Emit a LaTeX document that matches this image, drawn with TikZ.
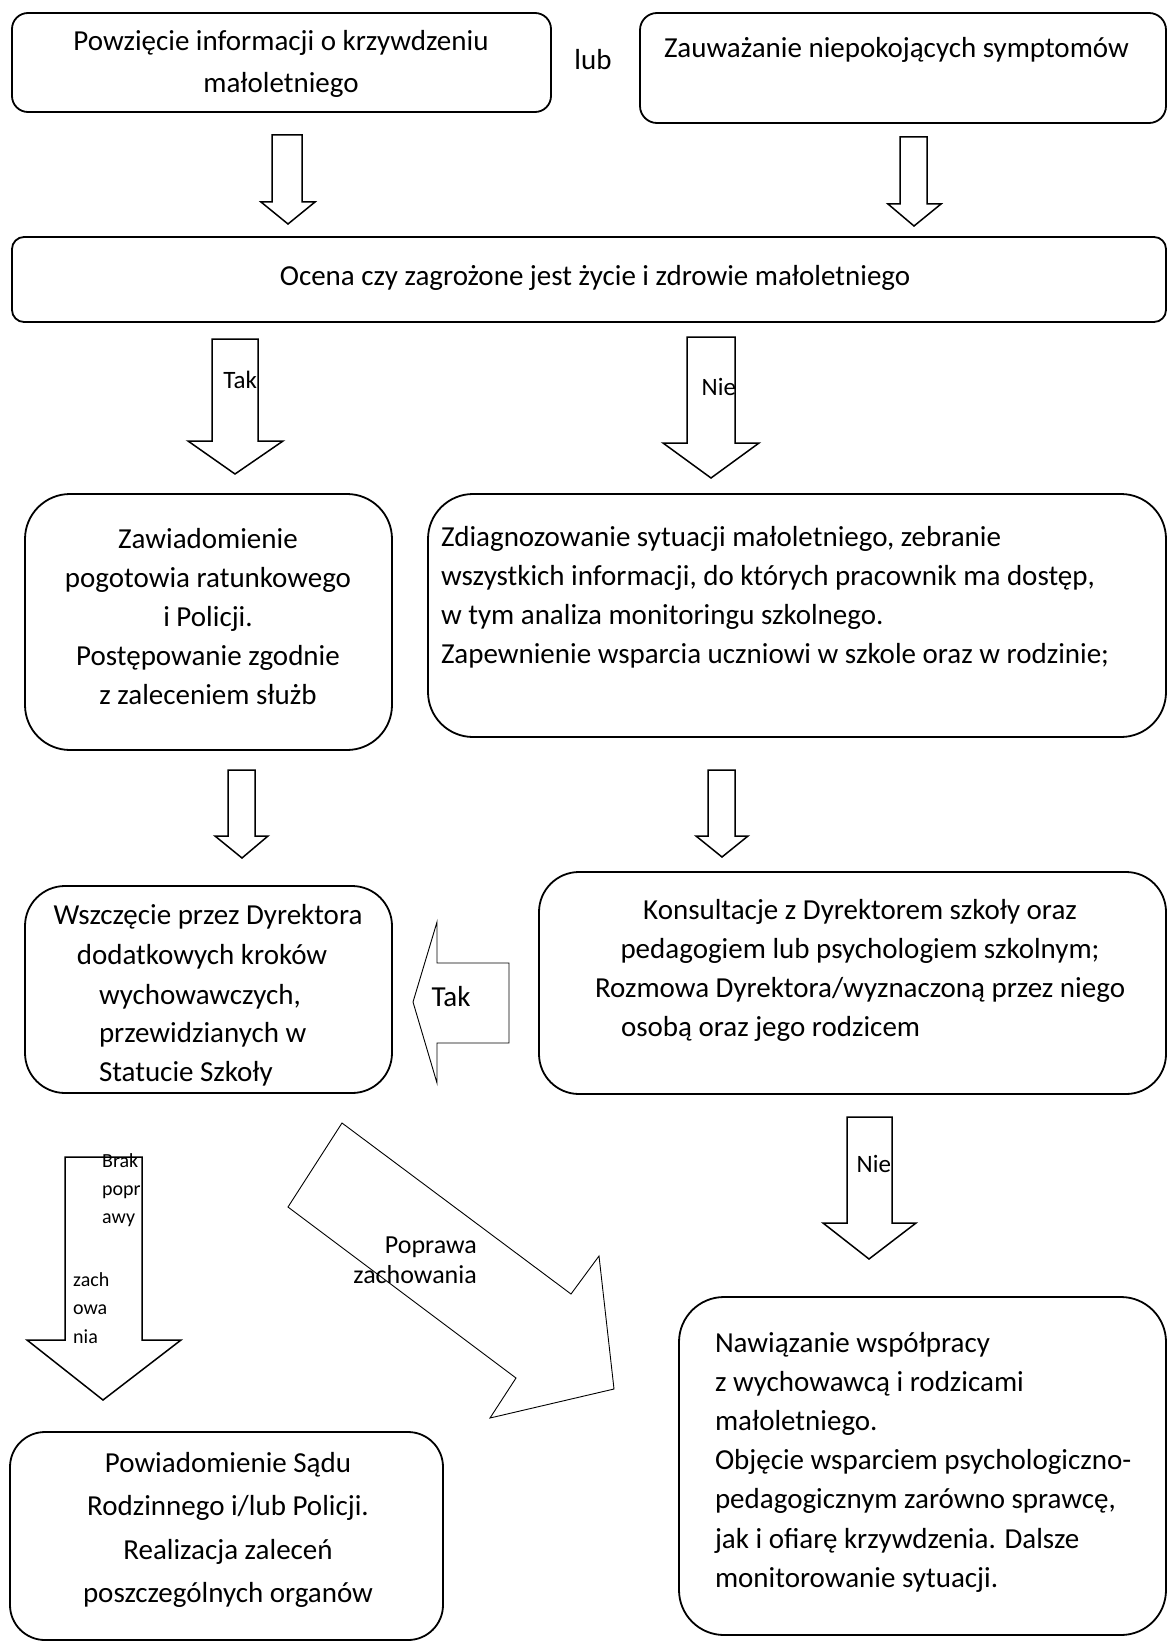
\documentclass[tikz,border=0pt]{standalone}
\usepackage{fontspec}
\setmainfont{Carlito}
\newcommand\myfs[2]{\fontsize{#1}{#2}\selectfont}
\tikzset{
  box/.style={draw, line width=1.8pt, inner sep=0pt, outer sep=0pt},
  blk/.style={draw, line width=1.5pt, line join=miter, fill=white},
  thinblk/.style={draw, line width=0.9pt, line join=miter, fill=white},
  txt/.style={inner sep=0pt, outer sep=0pt, font=\myfs{29}{35}},
  lbl/.style={inner sep=0pt, outer sep=0pt, font=\myfs{25}{30}},
}
\begin{document}
\begin{tikzpicture}[x=1pt,y=-1pt]
\useasboundingbox[fill=white] (0,0) rectangle (1168,1645);

% boxes
\node[box, rounded corners=16pt, minimum width=539pt, minimum height=99pt] (b1) at (281.5,62.5) {};
\node[box, rounded corners=17pt, minimum width=526pt, minimum height=110pt] (b2) at (903,68) {};
\node[box, rounded corners=12pt, minimum width=1154pt, minimum height=85pt] (ocena) at (589,279.5) {};
\node[box, rounded corners=45pt, minimum width=367pt, minimum height=256pt] (zaw) at (208.5,622) {};
\node[box, rounded corners=45pt, minimum width=738pt, minimum height=243pt] (zdiag) at (797,615.5) {};
\node[box, rounded corners=40pt, minimum width=367pt, minimum height=207pt] (wszcz) at (208.5,989.5) {};
\node[box, rounded corners=40pt, minimum width=627pt, minimum height=222pt] (kons) at (852.5,983) {};
\node[box, rounded corners=35pt, minimum width=433pt, minimum height=208pt] (powiad) at (226.5,1536) {};
\node[box, rounded corners=45pt, minimum width=487pt, minimum height=338pt] (nawiaz) at (922.5,1466) {};

% block arrows
\draw[blk] (272,135) -- (302,135) -- (302,202) -- (315,202) -- (288,224) -- (261,202) -- (272,202) -- cycle;
\draw[blk] (900,137) -- (927,137) -- (927,204) -- (941,204) -- (914,226) -- (888,204) -- (900,204) -- cycle;
\draw[blk] (212,339) -- (258,339) -- (258,441) -- (283,441) -- (235,474) -- (188,441) -- (212,441) -- cycle;
\draw[blk] (687,337) -- (735,337) -- (735,443) -- (759,443) -- (711,478) -- (663,443) -- (687,443) -- cycle;
\draw[blk] (228,770) -- (255,770) -- (255,836) -- (268,836) -- (242,858) -- (215,836) -- (228,836) -- cycle;
\draw[blk] (708,770) -- (735,770) -- (735,836) -- (748,836) -- (722,857) -- (696,836) -- (708,836) -- cycle;
\draw[blk] (847,1117) -- (892,1117) -- (892,1223) -- (916,1223) -- (869,1259) -- (823,1223) -- (847,1223) -- cycle;
\draw[blk] (65,1157) -- (142,1157) -- (142,1340) -- (181,1340) -- (103,1400) -- (27,1340) -- (65,1340) -- cycle;
\draw[thinblk] (509,963) -- (509,1043) -- (437,1043) -- (437,1083) -- (413,1002) -- (437,922) -- (437,963) -- cycle;
\draw[thinblk] (342,1123) -- (571,1294) -- (599,1256) -- (614,1389) -- (490,1418) -- (516,1378) -- (288,1207) -- cycle;

% texts
\node[txt, align=center, font=\myfs{29}{42}] (t1) at (281,64) {Powzięcie informacji o krzywdzeniu\\małoletniego};
\node[txt] (lub) at (593,60) {lub};
\node[txt, anchor=west] (t2) at (664,50) {Zauważanie niepokojących symptomów};
\node[txt] (tocena) at (595,278) {Ocena czy zagrożone jest życie i zdrowie małoletniego};
\node[lbl, anchor=east] (ltak1) at (257,380) {Tak};
\node[lbl, anchor=east] (lnie1) at (736,387) {Nie};
\node[txt, align=center, font=\myfs{29}{39}] (tzaw) at (208,617) {Zawiadomienie\\pogotowia ratunkowego\\i Policji.\\Postępowanie zgodnie\\z zaleceniem służb};
\node[txt, anchor=west, align=left, font=\myfs{29}{39}] (tzdiag) at (441,597) {Zdiagnozowanie sytuacji małoletniego, zebranie\\wszystkich informacji, do których pracownik ma dostęp,\\w tym analiza monitoringu szkolnego.\\Zapewnienie wsparcia uczniowi w szkole oraz w rodzinie;};
\node[txt] (tw1) at (208,917) {Wszczęcie przez Dyrektora};
\node[txt] (tw2) at (202,957) {dodatkowych kroków};
\node[txt, anchor=west, align=left, font=\myfs{29}{38.5}] (tw3) at (99,1035) {wychowawczych,\\przewidzianych w\\Statucie Szkoły};
\node[txt] (ltak2) at (451,997) {Tak};
\node[txt, align=center, font=\myfs{29}{39}] (tk1) at (860,951) {Konsultacje z Dyrektorem szkoły oraz\\pedagogiem lub psychologiem szkolnym;\\Rozmowa Dyrektora/wyznaczoną przez niego};
\node[txt, anchor=west] (tk2) at (621,1029) {osobą oraz jego rodzicem};
\node[lbl, anchor=east] (lnie2) at (891,1164) {Nie};
\node[inner sep=0pt, anchor=west, align=left, font=\myfs{20}{28.3}] (lbrak1) at (102,1190) {Brak\\popr\\awy};
\node[inner sep=0pt, anchor=west, align=left, font=\myfs{20}{28.3}] (lbrak2) at (73,1308) {zach\\owa\\nia};
\node[inner sep=0pt, anchor=east, align=right, font=\myfs{26}{30}] (lpop) at (477,1260) {Poprawa\\zachowania};
\node[txt, align=center, font=\myfs{29}{43.3}] (tpow) at (228,1530) {Powiadomienie Sądu\\Rodzinnego i/lub Policji.\\Realizacja zaleceń\\poszczególnych organów};
\node[txt, anchor=west, align=left, font=\myfs{29}{39.2}] (tnaw) at (715,1462) {Nawiązanie współpracy\\z wychowawcą i rodzicami\\małoletniego.\\Objęcie wsparciem psychologiczno-\\pedagogicznym zarówno sprawcę,\\jak i ofiarę krzywdzenia. Dalsze\\monitorowanie sytuacji.};
\end{tikzpicture}
\end{document}
